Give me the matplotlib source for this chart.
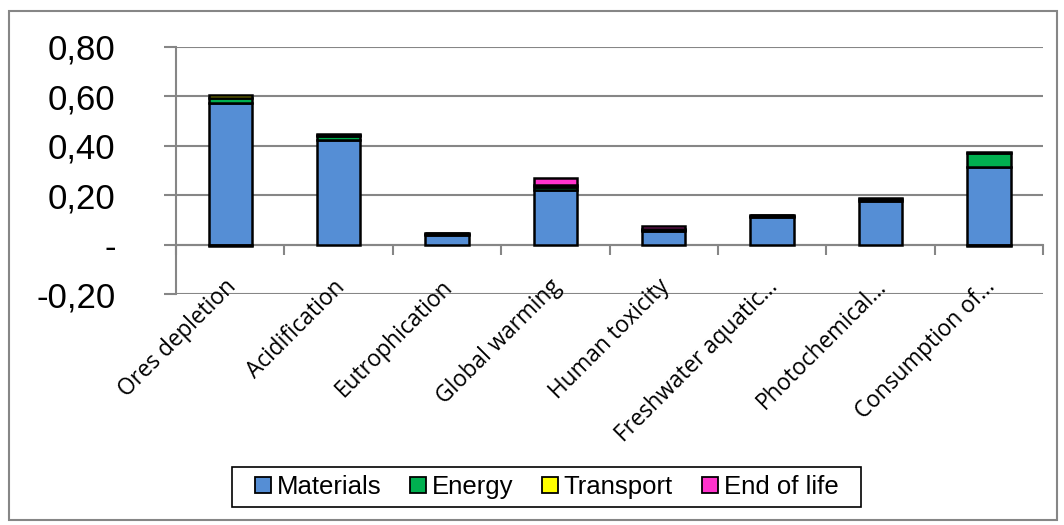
import matplotlib
matplotlib.use('Agg')
import matplotlib.pyplot as plt
import matplotlib.transforms as mtransforms
from matplotlib.patches import Rectangle
import numpy as np

# data
categories = ['Ores depletion', 'Acidification', 'Eutrophication', 'Global warming',
              'Human toxicity', 'Freshwater aquatic...', 'Photochemical...', 'Consumption of...']
materials   = [0.572, 0.423, 0.040, 0.223, 0.054, 0.110, 0.176, 0.315]
energy      = [0.020, 0.017, 0.004, 0.012, 0.005, 0.007, 0.008, 0.055]
transport   = [0.012, 0.005, 0.001, 0.006, 0.003, 0.002, 0.002, 0.003]
end_of_life = [-0.005, 0.004, 0.001, 0.030, 0.013, 0.002, 0.002, -0.005]

series = [('Materials', materials, '#558ED5'),
          ('Energy', energy, '#00B050'),
          ('Transport', transport, '#FFFF00'),
          ('End of life', end_of_life, '#FF33CC')]

yticks = [-0.2, 0.0, 0.2, 0.4, 0.6, 0.8]
ytick_labels = ['-0,20', '-', '0,20', '0,40', '0,60', '0,80']

plt.rcParams['font.family'] = ['Liberation Sans', 'DejaVu Sans']

fig = plt.figure(figsize=(10.64, 5.25), dpi=100)
ax = fig.add_axes([0.1654, 0.44, 0.815, 0.4705])

x = np.arange(len(categories))
pos_bottom = np.zeros(len(categories))
neg_bottom = np.zeros(len(categories))
for name, vals, color in series:
    vals = np.array(vals)
    bottom = np.where(vals >= 0, pos_bottom, neg_bottom)
    ax.bar(x, vals, 0.4, bottom=bottom, color=color, edgecolor='black',
           linewidth=1.8, label=name, zorder=3)
    pos_bottom += np.where(vals >= 0, vals, 0)
    neg_bottom += np.where(vals < 0, vals, 0)

ax.set_xlim(-0.5, len(categories) - 0.5)
ax.set_ylim(-0.2, 0.8)
ax.set_yticks(yticks)
ax.set_yticklabels(ytick_labels, fontsize=25)
ax.yaxis.grid(True, color='#868686', linewidth=1.5, zorder=0)
ax.tick_params(axis='y', length=8.5, width=1.5, color='#868686', pad=35)

# x axis line through zero, tick marks between categories
for s in ['top', 'right']:
    ax.spines[s].set_visible(False)
ax.spines['left'].set_color('#868686')
ax.spines['left'].set_linewidth(1.5)
ax.spines['bottom'].set_position(('data', 0))
ax.spines['bottom'].set_color('#868686')
ax.spines['bottom'].set_linewidth(1.5)
ax.set_xticks(np.arange(len(categories) + 1) - 0.5)
ax.set_xticklabels([])
ax.tick_params(axis='x', length=7, width=1.5, color='#868686')

# category labels below the plot, overlapping the bottom gridline a little
trans = mtransforms.blended_transform_factory(ax.transData, ax.transAxes)
offset = mtransforms.ScaledTranslation(-0.06, 0.19, fig.dpi_scale_trans)
for xi, lab in zip(x, categories):
    ax.text(xi, 0, lab, transform=trans + offset, rotation=45, ha='right', va='top',
            rotation_mode='anchor', fontsize=16.3,
            family=['Open Sans', 'DejaVu Sans'], zorder=4)

leg = fig.legend(loc='center', bbox_to_anchor=(0.5136, 0.0724), ncol=4, fontsize=18.5,
                 frameon=False, handlelength=0.62, handleheight=0.62,
                 handletextpad=0.23, columnspacing=1.12, borderpad=0.0)
for h in leg.legend_handles:
    h.set_linewidth(1.3)

# legend frame drawn a bit wider than the entries, like the original
fig.canvas.draw()
bb = leg.get_window_extent()
padx, pady = 23, 8
fig.patches.append(Rectangle((bb.x0 - padx, bb.y0 - pady), bb.width + 2 * padx,
                             bb.height + 2 * pady, transform=None, fill=False,
                             edgecolor='black', linewidth=1.2))

# outer chart border
fig.patches.append(Rectangle((0.008, 0.01), 0.985, 0.97, transform=fig.transFigure,
                             fill=False, edgecolor='#868686', linewidth=1.5))

fig.savefig('out.png', dpi=100)
